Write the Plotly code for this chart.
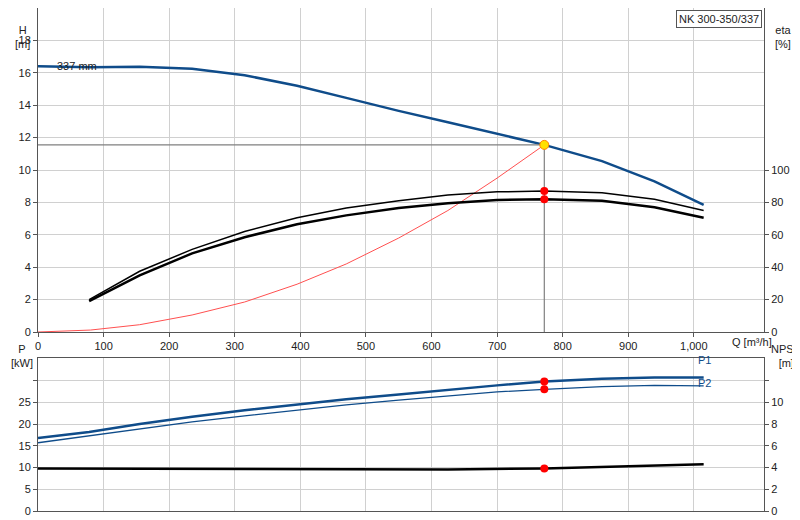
import plotly.graph_objects as go

# pump curve data
q_h = [0, 80, 155, 235, 315, 395, 470, 550, 625, 700, 772, 860, 940, 1015]
h = [16.4, 16.35, 16.38, 16.25, 15.85, 15.2, 14.45, 13.65, 12.95, 12.25, 11.55, 10.55, 9.3, 7.85]

q_eta = [78, 155, 235, 315, 395, 470, 550, 625, 700, 772, 860, 940, 1015]
eta_pump = [20, 37.5, 51, 62, 70.5, 76.5, 81, 84.5, 86.5, 87, 86, 82, 75]
eta_total = [19, 35, 48.5, 58.5, 66.5, 72, 76.5, 79.5, 81.5, 82, 81, 77, 70.5]

q_sys = [0, 80, 155, 235, 315, 395, 470, 550, 625, 700, 772]
h_sys = [0, 0.12, 0.45, 1.05, 1.85, 2.95, 4.2, 5.8, 7.5, 9.5, 11.55]

q_p = [0, 78, 155, 235, 315, 395, 470, 550, 625, 700, 772, 860, 940, 1015]
p1 = [16.8, 18.2, 20, 21.7, 23.2, 24.5, 25.7, 26.8, 27.9, 28.9, 29.8, 30.4, 30.7, 30.7]
p2 = [15.7, 17.3, 18.9, 20.5, 21.9, 23.2, 24.4, 25.5, 26.5, 27.4, 28.0, 28.6, 28.9, 28.8]

q_npsh = [0, 155, 315, 470, 625, 772, 860, 1015]
npsh = [3.92, 3.9, 3.86, 3.8, 3.82, 3.92, 4.05, 4.3]

q_ticks = [0, 100, 200, 300, 400, 500, 600, 700, 800, 900, 1000]
q_duty = 772
h_duty = 11.55

BLUE = "#0f4c8a"
GRID = "#d0d0d0"
FONT = dict(family="Liberation Sans, Arial, sans-serif", size=11, color="#222")

fig = go.Figure()
fig.add_trace(go.Scatter(x=q_h, y=h, mode="lines", line=dict(color=BLUE, width=2.5), xaxis="x", yaxis="y"))
fig.add_trace(go.Scatter(x=q_sys, y=h_sys, mode="lines", line=dict(color="#ff5050", width=1), xaxis="x", yaxis="y"))
fig.add_trace(go.Scatter(x=[0, q_duty, q_duty], y=[h_duty, h_duty, 0], mode="lines",
                         line=dict(color="#808080", width=1.2), xaxis="x", yaxis="y"))
fig.add_trace(go.Scatter(x=q_eta, y=eta_pump, mode="lines", line=dict(color="black", width=1.5), xaxis="x", yaxis="y2"))
fig.add_trace(go.Scatter(x=q_eta, y=eta_total, mode="lines", line=dict(color="black", width=2.5), xaxis="x", yaxis="y2"))
fig.add_trace(go.Scatter(x=[q_duty, q_duty], y=[eta_pump[9], eta_total[9]], mode="markers",
                         marker=dict(color="red", size=8), xaxis="x", yaxis="y2"))
fig.add_trace(go.Scatter(x=[q_duty], y=[h_duty], mode="markers",
                         marker=dict(color="#ffe000", size=9, line=dict(color="#ff8000", width=1)), xaxis="x", yaxis="y"))

fig.add_trace(go.Scatter(x=q_p, y=p1, mode="lines", line=dict(color=BLUE, width=2.5), xaxis="x2", yaxis="y3"))
fig.add_trace(go.Scatter(x=q_p, y=p2, mode="lines", line=dict(color=BLUE, width=1.3), xaxis="x2", yaxis="y3"))
fig.add_trace(go.Scatter(x=q_npsh, y=npsh, mode="lines", line=dict(color="black", width=2.5), xaxis="x2", yaxis="y4"))
fig.add_trace(go.Scatter(x=[q_duty, q_duty], y=[p1[10], p2[10]], mode="markers",
                         marker=dict(color="red", size=8), xaxis="x2", yaxis="y3"))
fig.add_trace(go.Scatter(x=[q_duty], y=[npsh[5]], mode="markers",
                         marker=dict(color="red", size=8), xaxis="x2", yaxis="y4"))

xdom = [30 / 800, 756 / 800]
ax = dict(showline=True, linecolor="#555", mirror=True, gridcolor=GRID, zeroline=False,
          ticks="outside", ticklen=4, tickcolor="#555", automargin=False)
rax = dict(side="right", showgrid=False, zeroline=False, ticks="outside", ticklen=4,
           tickcolor="#555", showline=True, linecolor="#555", automargin=False)
fig.update_layout(
    width=800, height=520, margin=dict(l=0, r=0, t=0, b=0),
    paper_bgcolor="white", plot_bgcolor="white", showlegend=False, font=FONT,
    xaxis=dict(ax, domain=xdom, range=[0, 1107], tickvals=q_ticks, tickformat=",", anchor="y"),
    yaxis=dict(ax, domain=[1 - 324 / 520, 1], range=[0, 20], tickvals=list(range(0, 19, 2))),
    yaxis2=dict(rax, overlaying="y", range=[0, 200], tickvals=[0, 20, 40, 60, 80, 100], anchor="x"),
    xaxis2=dict(ax, domain=xdom, range=[0, 1107], tickvals=q_ticks, showticklabels=False,
                anchor="y3", ticks=""),
    yaxis3=dict(ax, domain=[1 - 503 / 520, 1 - 350 / 520], range=[0, 35.2],
                tickvals=[0, 5, 10, 15, 20, 25, 30], ticktext=["0", "5", "10", "15", "20", "25", ""], anchor="x2"),
    yaxis4=dict(rax, overlaying="y3", range=[0, 14.08], tickvals=[0, 2, 4, 6, 8, 10, 12],
                ticktext=["0", "2", "4", "6", "8", "10", ""], anchor="x2"),
)

notes = [
    (14, 14, "H<br>[m]", "center"), (775, 14, "eta<br>[%]", "center"), (722, 334, "Q [m³/h]", "left"),
    (14, 363, "P<br>[kW]", "center"), (778, 363, "NPSH<br>[m]", "center"), (47, 50, "337 mm", "left"),
    (688, 360, "P1", "left"), (688, 383, "P2", "left"),
]
for x, y, t, anc in notes:
    fig.add_annotation(x=x / 800, y=1 - y / 520, xref="paper", yref="paper", text=t, showarrow=False,
                       font=dict(FONT, color=BLUE if t in ("P1", "P2") else "#222"), xanchor=anc)
fig.add_annotation(x=754 / 800, y=1 - 2 / 520, xref="paper", yref="paper", text="NK 300-350/337",
                   showarrow=False, xanchor="right", yanchor="top", bgcolor="white",
                   bordercolor="#555", borderwidth=1, borderpad=2, font=FONT)

fig.write_html("out.html")
